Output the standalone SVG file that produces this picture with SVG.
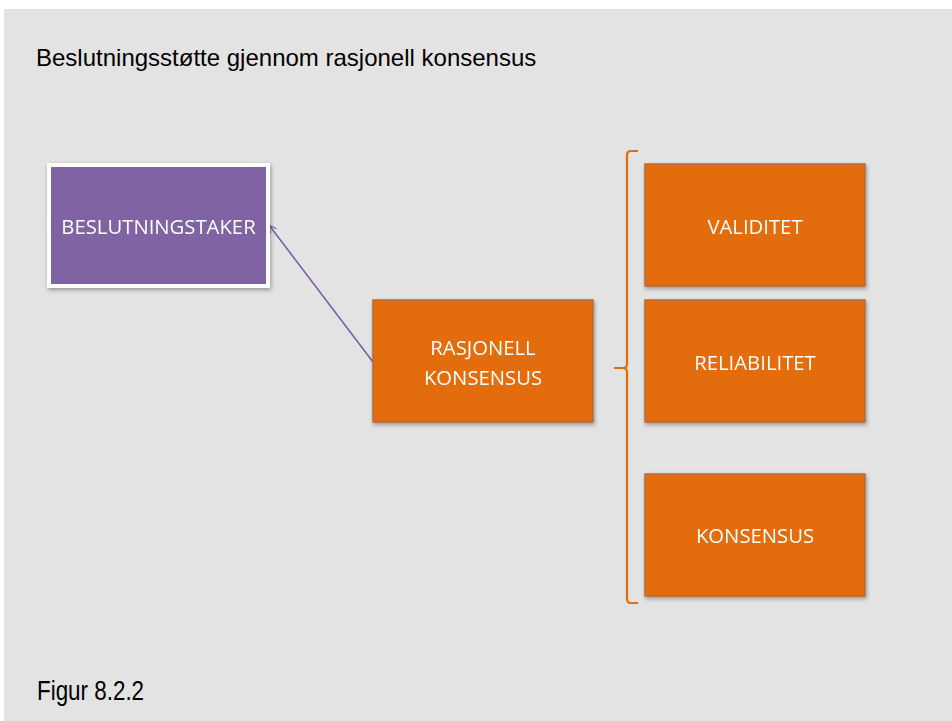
<svg xmlns="http://www.w3.org/2000/svg" width="952" height="721" viewBox="0 0 952 721">
  <defs>
    <style>
      .bg { fill: #e3e3e3; }
      .caption { font-family: "Liberation Sans", Arial, sans-serif; font-size: 24px; fill: #000; }
      .box-orange { fill: #e36c0a; stroke: #b8693a; stroke-width: 1.5; }
      .box-purple { fill: #8064a2; stroke: #ffffff; stroke-width: 4; }
      .label { font-family: "Open Sans", "Noto Sans", sans-serif; font-size: 20.3px; fill: #ffffff; text-anchor: middle; }
      .connector { fill: none; stroke: #7b5fa6; stroke-width: 1.6; }
      .brace { fill: none; stroke: #e36c0a; stroke-width: 2.2; }
    </style>
    <filter id="shadow" x="-10%" y="-10%" width="130%" height="130%">
      <feGaussianBlur in="SourceAlpha" stdDeviation="2"/>
      <feOffset dx="1" dy="2" result="b"/>
      <feComponentTransfer><feFuncA type="linear" slope="0.35"/></feComponentTransfer>
      <feMerge><feMergeNode/><feMergeNode in="SourceGraphic"/></feMerge>
    </filter>
    <marker id="open-arrow" viewBox="0 0 12 12" refX="11" refY="6" markerWidth="9" markerHeight="9" markerUnits="userSpaceOnUse" orient="auto">
      <path d="M1,1 L11,6 L1,11" fill="none" stroke="#7b5fa6" stroke-width="1.6"/>
    </marker>
  </defs>

  <!-- slide background -->
  <rect x="0" y="0" width="952" height="721" fill="#ffffff"/>
  <rect class="bg" x="4" y="9" width="948" height="712"/>

  <text class="caption" x="36" y="66">Beslutningsstøtte gjennom rasjonell konsensus</text>
  <text class="caption" transform="translate(37,700) scale(0.83,1)" x="0" y="0" style="font-size:27px">Figur 8.2.2</text>

  <!-- connectors -->
  <g id="connectors">
    <line class="connector" x1="373" y1="362" x2="269" y2="225" marker-end="url(#open-arrow)"/>
    <path id="brace" class="brace" d="M638,151 L631,151 Q627,151 627,155 L627,364 Q627,368 623,368 L614,368 M623,368 Q627,368 627,372 L627,599 Q627,603 631,603 L638,603"/>
  </g>

  <g id="beslutningstaker" filter="url(#shadow)">
    <rect class="box-purple" x="49" y="165" width="219" height="121"/>
    <text class="label" x="158.5" y="233.5">BESLUTNINGSTAKER</text>
  </g>

  <g id="rasjonell-konsensus" filter="url(#shadow)">
    <rect class="box-orange" x="373" y="300" width="220" height="122"/>
    <text class="label" x="483" y="355">RASJONELL</text>
    <text class="label" x="483" y="384.5">KONSENSUS</text>
  </g>

  <g id="validitet" filter="url(#shadow)">
    <rect class="box-orange" x="645" y="164" width="220" height="122"/>
    <text class="label" x="755" y="234">VALIDITET</text>
  </g>

  <g id="reliabilitet" filter="url(#shadow)">
    <rect class="box-orange" x="645" y="300" width="220" height="122"/>
    <text class="label" x="755" y="369.5">RELIABILITET</text>
  </g>

  <g id="konsensus" filter="url(#shadow)">
    <rect class="box-orange" x="645" y="474" width="220" height="122"/>
    <text class="label" x="755" y="543">KONSENSUS</text>
  </g>
</svg>
